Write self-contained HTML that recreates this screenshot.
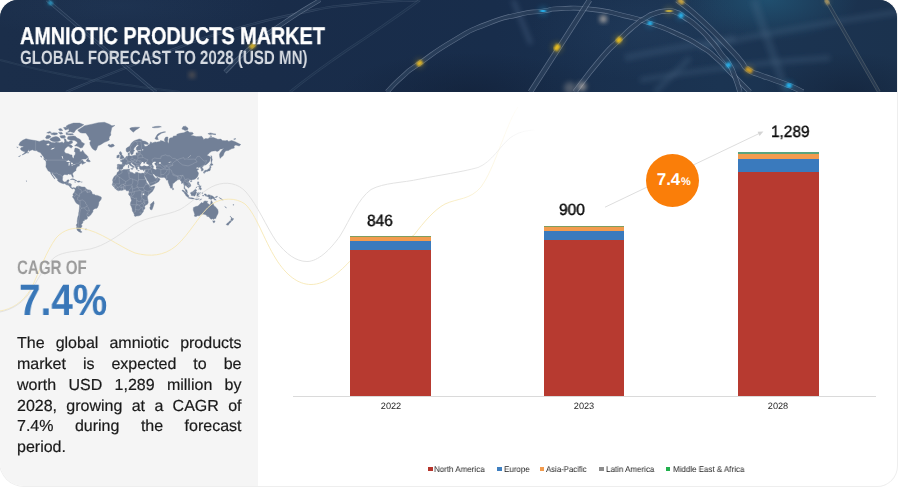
<!DOCTYPE html>
<html><head><meta charset="utf-8"><title>Amniotic Products Market</title>
<style>
html,body{margin:0;padding:0;background:#fff;}
body{width:900px;height:488px;overflow:hidden;position:relative;font-family:"Liberation Sans",sans-serif;}
#card *{text-rendering:geometricPrecision;}
.para,.lg,.yr,.val,.cagr,.pct,.t1,.t2{will-change:transform;}
#card{position:absolute;left:0;top:0;width:897px;height:486px;border-radius:18px 18px 20px 24px;overflow:hidden;background:#fff;box-shadow:0 0 0 1px #eeeeee;}
#hdr{position:absolute;left:0;top:0;width:898px;height:91.5px;background:#1b2f4b;overflow:hidden;}
#hdr svg{position:absolute;left:0;top:0;}
.t1{position:absolute;left:20px;top:22.5px;font-weight:bold;font-size:24.2px;line-height:28px;color:#fff;-webkit-text-stroke:0.35px #fff;white-space:nowrap;transform-origin:0 0;transform:scaleX(0.819);}
.t2{position:absolute;left:20px;top:48px;font-weight:bold;font-size:19.3px;line-height:22px;color:#d5dae1;white-space:nowrap;transform-origin:0 0;transform:scaleX(0.784);}
#panel{position:absolute;left:0;top:91.5px;width:258px;height:396px;background:#f5f5f5;}
#deco{position:absolute;left:0;top:0;}
.cagr{position:absolute;left:17.2px;top:257.4px;font-size:19.5px;line-height:22px;color:#9b9b9b;white-space:nowrap;transform-origin:0 0;transform:scaleX(0.776);font-weight:bold;}
.pct{position:absolute;left:18.5px;top:276.4px;font-size:44px;line-height:50px;font-weight:bold;color:#3977b8;white-space:nowrap;transform-origin:0 0;transform:scaleX(0.878);}
.para{position:absolute;left:17px;top:334.4px;width:224.5px;font-size:16px;line-height:20.85px;color:#1a1a1a;-webkit-text-stroke:0.2px #1a1a1a;}
.para div{text-align:justify;text-align-last:justify;white-space:nowrap;height:20.85px;}
.para div.last{text-align-last:left;}
.bar{position:absolute;}
.val{position:absolute;font-size:16.3px;line-height:18px;color:#0a0a0a;-webkit-text-stroke:0.38px #0a0a0a;white-space:nowrap;transform-origin:0 0;}
.yr{position:absolute;font-size:9.2px;line-height:10px;color:#262626;white-space:nowrap;width:40px;text-align:center;}
.lg{position:absolute;top:464px;font-size:8.4px;line-height:10px;color:#1c1c1c;white-space:nowrap;transform-origin:0 0;transform:scaleX(0.953);}
.sq{position:absolute;top:466.6px;width:4.4px;height:4.4px;}
#circ{position:absolute;left:646.4px;top:153.5px;width:53px;height:53px;border-radius:50%;background:#fa7e09;}
#circ span{position:absolute;color:#fff;font-weight:bold;white-space:nowrap;}
</style></head>
<body>
<div id="card">
<div id="hdr"><svg width="898" height="92" viewBox="0 0 898 92">
<defs>
<linearGradient id="hg" x1="0" y1="0" x2="1" y2="0">
<stop offset="0" stop-color="#1b2e4a"/><stop offset="0.3" stop-color="#192c49"/><stop offset="0.55" stop-color="#182d4b"/><stop offset="0.8" stop-color="#1b3452"/><stop offset="1" stop-color="#1b324e"/>
</linearGradient>
<radialGradient id="rg1" cx="0.5" cy="0.5" r="0.5"><stop offset="0" stop-color="#256a8c" stop-opacity="0.5"/><stop offset="1" stop-color="#256a8c" stop-opacity="0"/></radialGradient>
<radialGradient id="rg2" cx="0.5" cy="0.5" r="0.5"><stop offset="0" stop-color="#0f1b30" stop-opacity="0.45"/><stop offset="1" stop-color="#0f1b30" stop-opacity="0"/></radialGradient>
<radialGradient id="rg3" cx="0.5" cy="0.5" r="0.5"><stop offset="0" stop-color="#3a5d85" stop-opacity="0.35"/><stop offset="1" stop-color="#3a5d85" stop-opacity="0"/></radialGradient>
<filter id="b1" x="-50%" y="-50%" width="200%" height="200%"><feGaussianBlur stdDeviation="0.8"/></filter>
<filter id="b2" x="-50%" y="-50%" width="200%" height="200%"><feGaussianBlur stdDeviation="2.4"/></filter>
<filter id="b3" x="-20%" y="-20%" width="140%" height="140%"><feGaussianBlur stdDeviation="2.6"/></filter>
</defs>
<rect width="898" height="92" fill="url(#hg)"/>
<ellipse cx="768" cy="0" rx="90" ry="42" fill="url(#rg1)"/>
<ellipse cx="640" cy="30" rx="110" ry="50" fill="url(#rg3)" opacity="0.45"/>
<ellipse cx="120" cy="6" rx="160" ry="34" fill="url(#rg3)" opacity="0.35"/>
<ellipse cx="470" cy="92" rx="130" ry="40" fill="url(#rg2)"/>
<ellipse cx="850" cy="92" rx="90" ry="40" fill="url(#rg2)"/>
<g filter="url(#b3)" fill="none" stroke="#54708f" stroke-opacity="0.24">
<path d="M700 48 C760 34 830 22 898 12" stroke-width="6"/>
<path d="M754 0 C762 26 772 50 786 92" stroke-width="8"/>
<path d="M625 58 C660 50 700 44 735 38" stroke-width="7"/>
<path d="M640 80 C700 70 760 62 830 58" stroke-width="6"/>
<path d="M655 92 L690 58" stroke-width="6"/>
<path d="M513 0 L531 44" stroke-width="5" stroke="#6a86a6"/>
</g>
<path d="M66.0 92.0C84.0 84.7 82.0 85.0 120.0 70.0C158.0 55.0 145.0 59.7 180.0 47.0C215.0 34.3 185.0 43.3 225.0 32.0C265.0 20.7 255.0 22.3 300.0 13.0C345.0 3.7 320.0 8.3 360.0 4.0C400.0 -0.3 400.0 1.3 420.0 0.0" fill="none" stroke="#c6d3e6" stroke-opacity="0.16" stroke-width="2.4"/><path d="M66.0 92.0C84.0 84.7 82.0 85.0 120.0 70.0C158.0 55.0 145.0 59.7 180.0 47.0C215.0 34.3 185.0 43.3 225.0 32.0C265.0 20.7 255.0 22.3 300.0 13.0C345.0 3.7 320.0 8.3 360.0 4.0C400.0 -0.3 400.0 1.3 420.0 0.0" fill="none" stroke="#1a2f4c" stroke-opacity="0.78" stroke-width="1.1"/><path d="M47.0 0.0C58.0 9.3 56.3 8.0 80.0 28.0C103.7 48.0 92.7 38.7 118.0 60.0C143.3 81.3 143.3 81.3 156.0 92.0" fill="none" stroke="#c6d3e6" stroke-opacity="0.22" stroke-width="3.2"/><path d="M47.0 0.0C58.0 9.3 56.3 8.0 80.0 28.0C103.7 48.0 92.7 38.7 118.0 60.0C143.3 81.3 143.3 81.3 156.0 92.0" fill="none" stroke="#1a2f4c" stroke-opacity="0.78" stroke-width="1.9"/><path d="M0.0 60.0C20.0 64.7 20.0 66.0 60.0 74.0C100.0 82.0 80.0 78.0 120.0 84.0C160.0 90.0 160.0 89.3 180.0 92.0" fill="none" stroke="#c6d3e6" stroke-opacity="0.1" stroke-width="2.0"/><path d="M0.0 60.0C20.0 64.7 20.0 66.0 60.0 74.0C100.0 82.0 80.0 78.0 120.0 84.0C160.0 90.0 160.0 89.3 180.0 92.0" fill="none" stroke="#1a2f4c" stroke-opacity="0.78" stroke-width="0.7"/><path d="M290.0 92.0C303.3 82.0 300.0 83.3 330.0 62.0C360.0 40.7 350.0 48.7 380.0 28.0C410.0 7.3 406.7 9.3 420.0 0.0" fill="none" stroke="#c6d3e6" stroke-opacity="0.12" stroke-width="2.6"/><path d="M290.0 92.0C303.3 82.0 300.0 83.3 330.0 62.0C360.0 40.7 350.0 48.7 380.0 28.0C410.0 7.3 406.7 9.3 420.0 0.0" fill="none" stroke="#1a2f4c" stroke-opacity="0.78" stroke-width="1.3"/><path d="M225.0 72.0C234.2 63.3 232.5 62.7 252.5 46.0C272.5 29.3 262.5 37.3 285.0 22.0C307.5 6.7 308.3 7.3 320.0 0.0" fill="none" stroke="#c6d3e6" stroke-opacity="0.38" stroke-width="4.2"/><path d="M225.0 72.0C234.2 63.3 232.5 62.7 252.5 46.0C272.5 29.3 262.5 37.3 285.0 22.0C307.5 6.7 308.3 7.3 320.0 0.0" fill="none" stroke="#1a2f4c" stroke-opacity="0.78" stroke-width="2.9"/><path d="M677.0 0.0C684.7 6.2 683.4 3.6 700.0 18.7C716.6 33.8 713.4 31.5 726.7 45.3C740.0 59.1 732.9 51.9 740.0 60.0C747.1 68.1 741.3 64.5 748.0 69.5C754.7 74.5 751.7 71.7 760.0 75.0C768.3 78.3 763.3 76.0 773.0 79.5C782.7 83.0 779.0 81.3 789.0 85.5C799.0 89.7 798.3 89.8 803.0 92.0" fill="none" stroke="#c6d3e6" stroke-opacity="0.38" stroke-width="5.4"/><path d="M677.0 0.0C684.7 6.2 683.4 3.6 700.0 18.7C716.6 33.8 713.4 31.5 726.7 45.3C740.0 59.1 732.9 51.9 740.0 60.0C747.1 68.1 741.3 64.5 748.0 69.5C754.7 74.5 751.7 71.7 760.0 75.0C768.3 78.3 763.3 76.0 773.0 79.5C782.7 83.0 779.0 81.3 789.0 85.5C799.0 89.7 798.3 89.8 803.0 92.0" fill="none" stroke="#1a2f4c" stroke-opacity="0.78" stroke-width="4.1"/><path d="M387.0 92.0C392.0 87.0 391.1 86.6 402.0 77.0C412.9 67.4 402.1 75.6 419.6 63.3C437.1 51.0 432.3 53.0 454.4 40.0C476.5 27.0 464.9 32.7 486.0 24.3C507.1 15.9 498.8 19.2 517.8 14.8C536.8 10.4 528.6 13.1 543.0 11.0C557.4 8.9 544.4 9.1 561.0 8.6C577.6 8.1 571.7 7.1 592.8 9.5C613.9 11.9 605.4 11.2 624.4 15.8C643.4 20.4 632.3 17.2 649.8 23.2C667.3 29.2 660.3 26.2 677.0 33.8C693.7 41.4 687.0 37.9 700.0 46.0C713.0 54.1 706.0 49.3 716.0 58.0C726.0 66.7 721.3 63.3 730.0 72.0C738.7 80.7 735.3 77.3 742.0 84.0C748.7 90.7 747.3 89.3 750.0 92.0" fill="none" stroke="#c6d3e6" stroke-opacity="0.4" stroke-width="4.8"/><path d="M387.0 92.0C392.0 87.0 391.1 86.6 402.0 77.0C412.9 67.4 402.1 75.6 419.6 63.3C437.1 51.0 432.3 53.0 454.4 40.0C476.5 27.0 464.9 32.7 486.0 24.3C507.1 15.9 498.8 19.2 517.8 14.8C536.8 10.4 528.6 13.1 543.0 11.0C557.4 8.9 544.4 9.1 561.0 8.6C577.6 8.1 571.7 7.1 592.8 9.5C613.9 11.9 605.4 11.2 624.4 15.8C643.4 20.4 632.3 17.2 649.8 23.2C667.3 29.2 660.3 26.2 677.0 33.8C693.7 41.4 687.0 37.9 700.0 46.0C713.0 54.1 706.0 49.3 716.0 58.0C726.0 66.7 721.3 63.3 730.0 72.0C738.7 80.7 735.3 77.3 742.0 84.0C748.7 90.7 747.3 89.3 750.0 92.0" fill="none" stroke="#1a2f4c" stroke-opacity="0.78" stroke-width="3.5"/><path d="M574.8 92.0C582.9 81.7 584.3 78.3 599.0 61.0C613.7 43.7 607.0 51.9 619.0 40.0C631.0 28.1 626.3 32.5 635.0 25.3C643.7 18.1 638.3 22.3 645.0 18.3C651.7 14.3 647.8 15.8 655.0 13.4C662.2 11.0 659.7 11.4 666.7 11.0C673.7 10.6 670.2 10.3 676.0 12.3C681.8 14.3 676.7 12.0 684.0 17.0C691.3 22.0 688.7 19.1 698.0 27.4C707.3 35.7 704.0 32.8 712.0 42.0C720.0 51.2 716.3 47.7 722.0 55.0C727.7 62.3 724.7 56.7 729.0 64.0C733.3 71.3 731.3 67.7 735.0 77.0C738.7 86.3 738.3 87.0 740.0 92.0" fill="none" stroke="#c6d3e6" stroke-opacity="0.4" stroke-width="5.2"/><path d="M574.8 92.0C582.9 81.7 584.3 78.3 599.0 61.0C613.7 43.7 607.0 51.9 619.0 40.0C631.0 28.1 626.3 32.5 635.0 25.3C643.7 18.1 638.3 22.3 645.0 18.3C651.7 14.3 647.8 15.8 655.0 13.4C662.2 11.0 659.7 11.4 666.7 11.0C673.7 10.6 670.2 10.3 676.0 12.3C681.8 14.3 676.7 12.0 684.0 17.0C691.3 22.0 688.7 19.1 698.0 27.4C707.3 35.7 704.0 32.8 712.0 42.0C720.0 51.2 716.3 47.7 722.0 55.0C727.7 62.3 724.7 56.7 729.0 64.0C733.3 71.3 731.3 67.7 735.0 77.0C738.7 86.3 738.3 87.0 740.0 92.0" fill="none" stroke="#1a2f4c" stroke-opacity="0.78" stroke-width="3.9"/><path d="M530.4 92.0L589.6 0.0" fill="none" stroke="#c6d3e6" stroke-opacity="0.4" stroke-width="5.4"/><path d="M530.4 92.0L589.6 0.0" fill="none" stroke="#1a2f4c" stroke-opacity="0.78" stroke-width="4.1"/><path d="M826.0 0.0L879.0 92.0" fill="none" stroke="#c9c4b0" stroke-opacity="0.28" stroke-width="3.6"/><path d="M826.0 0.0L879.0 92.0" fill="none" stroke="#1a2f4c" stroke-opacity="0.7" stroke-width="2.3"/><circle cx="543" cy="11" r="5.3" fill="#27b9f5" opacity="0.19" filter="url(#b2)"/><line x1="540.5" y1="11.3" x2="545.5" y2="10.7" stroke="#27b9f5" stroke-width="4.4" opacity="0.95" filter="url(#b1)"/><circle cx="557" cy="47.5" r="6.0" fill="#f0c21e" opacity="0.19" filter="url(#b2)"/><line x1="555.2" y1="50.2" x2="558.8" y2="44.8" stroke="#f0c21e" stroke-width="5" opacity="0.95" filter="url(#b1)"/><circle cx="619" cy="40" r="5.8" fill="#f0c21e" opacity="0.19" filter="url(#b2)"/><line x1="617.1" y1="42.3" x2="620.9" y2="37.7" stroke="#f0c21e" stroke-width="4.8" opacity="0.95" filter="url(#b1)"/><circle cx="419.6" cy="63.3" r="5.3" fill="#eebf25" opacity="0.19" filter="url(#b2)"/><line x1="417.2" y1="65.1" x2="422.0" y2="61.5" stroke="#eebf25" stroke-width="4.4" opacity="0.95" filter="url(#b1)"/><circle cx="650" cy="23.4" r="5.0" fill="#27b9f5" opacity="0.19" filter="url(#b2)"/><line x1="647.9" y1="22.6" x2="652.1" y2="24.2" stroke="#27b9f5" stroke-width="4.2" opacity="0.95" filter="url(#b1)"/><circle cx="669" cy="11" r="5.3" fill="#e8c63a" opacity="0.16" filter="url(#b2)"/><line x1="666.0" y1="11.4" x2="672.0" y2="10.6" stroke="#e8c63a" stroke-width="4.4" opacity="0.8" filter="url(#b1)"/><circle cx="681" cy="15.5" r="5.3" fill="#27b9f5" opacity="0.19" filter="url(#b2)"/><line x1="679.3" y1="14.0" x2="682.7" y2="17.0" stroke="#27b9f5" stroke-width="4.4" opacity="0.95" filter="url(#b1)"/><circle cx="681" cy="1.5" r="5.3" fill="#e9b83a" opacity="0.16" filter="url(#b2)"/><line x1="678.5" y1="-0.2" x2="683.5" y2="3.2" stroke="#e9b83a" stroke-width="4.4" opacity="0.8" filter="url(#b1)"/><circle cx="728.5" cy="65" r="5.3" fill="#27b9f5" opacity="0.19" filter="url(#b2)"/><line x1="727.2" y1="63.2" x2="729.8" y2="66.8" stroke="#27b9f5" stroke-width="4.4" opacity="0.95" filter="url(#b1)"/><circle cx="749" cy="70" r="5.5" fill="#e2a922" opacity="0.17" filter="url(#b2)"/><line x1="745.9" y1="68.4" x2="752.1" y2="71.6" stroke="#e2a922" stroke-width="4.6" opacity="0.85" filter="url(#b1)"/><circle cx="789" cy="85.5" r="5.5" fill="#27b9f5" opacity="0.19" filter="url(#b2)"/><line x1="786.7" y1="84.4" x2="791.3" y2="86.6" stroke="#27b9f5" stroke-width="4.6" opacity="0.95" filter="url(#b1)"/><circle cx="252.5" cy="46" r="4.8" fill="#e9bf22" opacity="0.18" filter="url(#b2)"/><line x1="250.2" y1="47.9" x2="254.8" y2="44.1" stroke="#e9bf22" stroke-width="4" opacity="0.9" filter="url(#b1)"/><circle cx="50.5" cy="3" r="4.1" fill="#2aa9d8" opacity="0.16" filter="url(#b2)"/><line x1="48.8" y1="1.6" x2="52.2" y2="4.4" stroke="#2aa9d8" stroke-width="3.4" opacity="0.8" filter="url(#b1)"/><circle cx="827" cy="1.5" r="3.8" fill="#e6c066" opacity="0.14" filter="url(#b2)"/><line x1="825.5" y1="-1.1" x2="828.5" y2="4.1" stroke="#e6c066" stroke-width="3.2" opacity="0.7" filter="url(#b1)"/><circle cx="603.3" cy="19" r="3.2" fill="#f6e3cf" opacity="0.8" filter="url(#b2)"/><circle cx="582" cy="86.5" r="4.2" fill="#f6e3cf" opacity="0.55" filter="url(#b2)"/><circle cx="192" cy="75" r="3" fill="#e8b070" opacity="0.35" filter="url(#b2)"/><circle cx="570" cy="88" r="6" fill="#f6e3cf" opacity="0.25" filter="url(#b2)"/></svg>
<div class="t1">AMNIOTIC PRODUCTS MARKET</div>
<div class="t2">GLOBAL FORECAST TO 2028 (USD MN)</div>
</div>
<div id="panel"></div>
<svg id="map" width="260" height="250" viewBox="0 0 260 250" style="position:absolute;left:0;top:0"><path fill="#728097" stroke="#728097" stroke-width="0.4" stroke-linejoin="round" d="M18.8 145.1L20.1 142.2L22.6 140.3L26.0 138.8L30.0 139.7L35.6 140.6L39.3 141.4L43.6 140.0L45.5 140.8L48.6 140.8L51.7 142.5L54.8 142.7L56.0 141.9L59.8 142.7L62.2 141.9L63.5 143.2L64.7 141.4L64.1 138.6L65.7 139.1L66.6 141.4L68.4 141.9L70.3 140.8L72.2 140.8L72.5 143.0L69.7 144.3L69.1 146.1L67.2 146.8L65.3 148.6L64.4 150.5L64.4 151.7L65.7 153.3L68.4 153.7L70.3 154.8L72.0 155.0L72.2 156.8L73.1 158.2L74.0 158.0L74.0 155.9L75.3 154.2L75.4 152.4L74.3 151.4L75.0 148.1L77.1 148.3L79.6 149.6L79.9 151.4L81.2 152.1L82.7 150.2L83.3 151.4L84.9 153.7L87.0 155.5L88.3 157.2L86.7 158.2L85.8 159.1L82.7 159.1L81.5 159.8L79.3 161.7L80.8 160.5L82.7 159.9L83.0 161.3L84.9 162.5L85.8 162.5L83.9 163.6L82.1 164.4L82.1 163.3L81.5 163.3L79.6 164.3L79.2 165.6L79.6 165.8L78.4 166.2L77.1 166.7L76.8 167.6L76.2 168.5L75.9 169.2L76.1 170.5L75.3 171.0L74.0 171.9L72.8 173.1L72.6 174.2L73.2 175.9L73.3 177.2L72.8 177.5L72.2 176.6L71.7 175.5L71.5 174.7L70.7 174.2L70.0 174.4L68.8 174.0L67.5 174.0L67.7 174.9L66.6 174.7L64.7 174.4L63.2 175.3L62.7 176.2L62.7 177.6L62.4 179.2L62.7 180.5L63.5 181.5L64.4 182.0L66.0 181.8L66.8 181.2L67.0 180.2L68.4 179.8L69.2 180.0L68.7 181.2L68.3 182.5L68.0 183.5L69.7 183.5L71.4 184.1L71.2 185.7L71.1 186.7L71.8 187.7L72.8 188.1L73.7 187.6L75.0 188.1L74.7 189.1L73.7 188.1L73.1 189.0L72.3 188.8L71.5 188.4L70.3 187.4L69.8 186.7L68.8 185.4L67.5 185.1L66.3 184.7L64.7 183.5L63.5 183.7L61.9 183.3L60.1 182.5L58.5 181.6L57.5 180.5L57.7 179.6L57.0 178.6L55.7 177.4L55.1 176.4L54.2 175.5L53.2 174.5L52.8 173.3L51.8 173.0L51.9 174.2L52.9 175.5L53.9 176.9L54.5 178.0L55.1 178.8L54.7 178.9L53.6 177.7L53.4 176.8L52.2 176.0L52.0 175.2L51.2 174.2L50.6 172.9L50.3 172.3L49.5 171.4L48.3 171.0L47.4 169.6L47.0 168.7L46.2 167.4L45.9 166.8L46.1 164.8L46.1 162.3L45.7 160.6L47.0 161.3L46.9 160.1L45.8 159.3L44.3 158.4L43.6 156.8L42.4 155.5L41.5 154.2L40.2 152.4L38.4 151.9L36.5 150.7L34.0 150.5L32.5 149.8L30.9 150.3L29.1 151.3L29.1 149.6L27.8 151.0L27.2 152.5L25.3 153.6L23.5 154.5L21.9 155.0L22.9 154.2L24.7 152.8L25.3 151.7L23.8 151.6L22.6 151.0L21.0 150.0L20.4 148.6L21.3 147.4L23.2 147.0L23.2 146.1L21.0 146.1L19.8 145.6ZM75.0 188.1L75.4 188.6L76.2 187.0L76.6 186.6L77.7 186.3L78.7 185.8L78.5 186.7L79.6 186.3L79.9 185.9L80.7 186.8L82.1 186.9L83.3 187.0L84.6 186.9L85.2 187.6L85.8 188.2L86.7 189.2L87.7 189.8L88.9 189.9L90.1 190.1L91.1 190.9L92.0 192.5L92.0 193.6L92.9 194.2L94.5 194.4L95.5 195.3L97.3 195.4L98.8 195.9L100.1 196.6L101.2 197.1L101.4 198.3L101.0 199.6L99.9 200.9L98.9 202.1L98.8 203.7L98.4 205.4L97.7 207.0L97.0 208.2L95.4 208.4L94.2 209.0L92.9 210.2L92.9 211.7L92.0 213.0L90.8 214.8L89.8 215.8L88.9 216.5L87.7 216.2L86.8 215.8L87.5 217.2L87.2 218.9L85.8 219.4L84.4 219.4L84.4 220.7L82.7 220.9L83.1 222.0L82.5 223.2L81.2 224.7L82.2 225.9L81.2 227.5L80.2 228.8L80.6 229.9L80.5 230.9L82.1 232.0L80.8 232.6L79.0 231.7L77.4 230.4L76.5 228.3L76.8 226.3L76.2 225.1L77.4 223.2L77.2 221.3L77.4 219.8L77.6 218.0L78.0 216.5L78.6 215.1L78.7 213.0L79.1 211.0L79.4 208.6L79.5 206.3L79.4 205.2L78.7 204.6L77.1 203.7L75.8 202.5L75.1 201.2L74.3 199.6L73.5 198.0L72.7 197.4L72.6 196.4L73.4 195.7L72.8 195.0L73.3 193.6L74.0 192.7L74.3 192.0L75.1 191.1L75.0 189.5L74.7 189.1ZM119.3 170.1L121.8 170.5L123.6 169.6L126.1 169.4L129.1 169.0L129.8 169.2L129.3 170.3L129.7 171.4L130.1 171.9L132.3 172.5L134.2 173.7L135.4 173.5L135.5 172.4L137.3 172.3L138.5 173.0L141.0 173.5L142.2 173.1L143.0 173.3L143.2 174.2L144.0 175.5L145.1 178.2L146.1 180.2L146.3 181.6L147.4 183.5L148.6 184.4L149.8 185.7L149.8 186.3L150.9 187.0L152.8 186.5L154.7 186.1L154.5 187.6L153.4 189.8L152.4 191.4L150.9 192.7L149.3 194.2L148.1 195.3L147.4 196.7L147.5 198.3L148.0 200.2L148.2 202.8L147.2 204.4L145.8 205.0L144.6 206.3L145.0 208.6L143.5 210.0L143.3 211.7L142.2 213.0L140.7 215.0L138.9 215.8L136.6 216.0L135.4 216.4L134.4 216.0L134.3 214.4L133.5 212.7L132.4 211.0L132.0 208.3L131.2 206.3L130.3 204.7L130.6 202.5L131.5 200.5L131.1 199.0L130.6 197.4L130.3 196.4L128.9 194.9L128.5 194.0L128.9 193.0L129.1 191.6L128.5 190.8L127.3 190.8L126.4 190.8L125.8 189.6L124.2 189.6L122.4 190.3L121.1 190.5L120.2 190.3L118.3 190.8L117.1 190.1L115.9 189.3L114.8 188.2L114.6 187.4L113.7 186.7L112.6 185.7L112.2 184.3L112.8 183.1L112.9 181.5L112.5 180.2L113.1 178.6L114.0 176.9L114.9 175.7L116.2 175.0L116.9 174.2L117.0 173.1L117.7 171.9L118.8 171.2ZM117.4 169.2L117.1 168.0L117.5 166.3L117.2 164.8L118.0 164.3L120.5 164.5L121.9 164.5L122.3 163.3L122.3 162.5L121.6 161.7L120.1 160.9L121.1 160.2L122.1 160.3L121.9 159.5L123.1 159.7L124.0 158.6L125.2 158.1L125.8 157.2L126.1 156.5L127.3 156.3L128.4 156.1L128.1 154.6L128.1 153.3L129.5 152.6L129.5 154.2L129.2 155.0L129.8 155.9L131.7 155.9L134.5 155.3L135.4 155.6L136.0 154.6L136.0 153.3L136.9 152.6L138.1 153.1L138.1 152.1L137.6 151.3L139.1 151.0L140.4 150.9L141.6 150.5L140.4 150.0L138.5 150.3L137.1 150.5L136.2 149.6L136.3 147.6L138.2 145.8L138.7 145.1L136.8 144.8L136.1 146.1L134.5 147.6L133.7 149.1L133.8 150.0L134.7 150.7L133.5 151.7L133.2 153.3L132.9 154.0L131.9 154.6L131.1 154.7L130.9 154.0L130.3 152.7L129.8 151.4L129.5 151.0L128.9 151.6L128.0 152.3L126.7 151.9L126.1 150.5L126.1 148.6L127.3 147.6L129.2 146.6L130.4 145.1L131.1 143.5L132.3 142.2L133.8 141.1L135.4 140.3L137.3 139.7L139.1 139.0L141.0 139.4L142.2 139.9L141.6 140.6L143.5 140.9L145.3 141.3L147.8 142.7L148.4 143.9L147.8 144.4L145.9 144.3L143.8 143.9L144.1 145.1L144.7 146.3L146.2 146.6L146.6 145.9L147.8 146.0L148.1 144.9L149.7 144.3L150.3 142.7L150.3 141.9L151.8 142.4L151.8 143.5L152.8 142.8L155.2 141.9L156.5 142.2L158.3 141.8L160.2 141.6L160.5 140.5L162.7 141.1L164.5 141.7L165.5 142.3L164.5 140.6L164.5 139.1L165.8 137.0L167.9 137.0L167.9 139.4L167.6 141.9L168.6 143.5L168.9 141.9L169.2 139.1L170.1 138.0L171.4 137.7L172.9 137.6L173.2 136.2L176.6 135.7L176.9 134.3L180.0 133.3L183.8 132.7L187.5 130.8L189.3 132.2L192.4 132.4L193.4 133.7L190.6 135.6L193.1 135.8L196.2 136.6L199.3 136.4L201.7 136.3L203.0 138.0L203.6 139.4L205.5 138.6L207.9 138.7L209.8 137.4L213.5 137.6L216.0 138.6L217.9 139.3L221.0 139.1L222.2 140.6L225.3 140.8L227.2 140.3L228.7 141.4L231.5 140.5L234.6 141.4L237.7 143.0L240.8 144.6L239.2 145.9L235.8 145.1L234.0 145.9L234.3 148.1L231.5 148.8L229.6 149.8L228.4 150.5L225.9 150.7L224.4 152.4L223.8 153.9L223.4 155.2L222.2 156.6L221.3 156.9L220.2 158.4L219.7 156.8L219.5 154.2L220.3 152.6L222.2 150.0L224.1 148.1L222.2 148.9L220.3 149.1L218.8 150.8L217.2 151.4L215.4 150.8L211.7 151.2L209.8 152.6L208.2 154.2L206.8 155.3L208.6 155.9L209.8 156.6L210.7 157.4L210.1 159.3L209.8 160.9L208.6 162.5L207.0 164.0L205.5 165.0L204.2 165.2L203.4 165.9L202.4 167.0L202.1 167.6L203.2 168.9L203.3 170.3L202.4 170.8L201.4 171.1L201.4 169.6L201.1 168.7L200.5 168.2L200.5 167.3L199.3 167.3L198.3 167.9L198.3 166.7L196.8 167.6L196.0 167.9L196.5 168.7L197.7 168.7L198.9 169.1L197.6 170.0L197.0 170.7L197.7 171.7L198.5 173.1L198.3 174.5L198.0 175.5L197.1 177.2L196.2 178.0L195.2 178.9L193.8 179.4L192.4 179.8L191.4 180.1L191.2 180.7L190.9 179.9L190.0 179.8L189.2 180.5L188.6 181.5L189.0 182.5L190.1 183.5L190.8 185.1L190.7 186.2L189.5 187.0L189.0 187.6L188.1 188.1L188.1 187.3L187.2 186.9L186.6 186.0L185.6 185.4L185.0 185.2L184.7 186.7L184.6 187.7L185.3 189.1L185.9 189.3L186.9 190.1L187.2 191.1L187.2 192.0L187.6 192.7L187.1 192.7L185.8 191.8L185.2 190.5L185.1 189.5L184.4 188.8L183.9 188.4L184.1 187.0L184.2 185.8L183.8 184.7L183.5 183.3L182.8 182.9L182.1 183.6L181.5 183.5L181.5 181.8L180.8 180.9L180.0 179.9L179.5 179.2L178.8 179.6L177.9 179.8L176.9 180.0L176.6 180.9L175.7 181.3L174.5 182.5L173.5 183.3L172.7 183.8L172.7 185.3L172.5 186.3L172.5 187.1L172.0 187.7L171.5 188.1L171.1 188.5L170.4 187.7L170.0 186.3L169.4 185.4L169.0 184.1L168.4 182.8L168.1 181.5L168.1 180.2L167.6 180.1L166.9 180.3L165.8 179.4L166.6 178.9L165.3 178.4L164.7 177.7L164.2 177.3L162.7 177.4L161.1 177.5L159.6 177.3L158.5 177.0L158.0 176.2L156.8 176.5L155.6 175.9L154.6 175.0L154.0 174.0L153.2 174.0L152.8 174.5L153.1 175.3L154.0 176.4L154.3 177.4L154.9 176.9L154.9 177.9L156.2 178.2L157.4 177.2L157.9 176.7L158.0 177.9L159.4 178.5L160.1 179.3L159.3 180.6L158.8 181.5L157.7 182.2L156.5 182.9L155.4 183.5L153.4 184.6L150.9 185.5L150.0 185.6L149.4 184.2L149.0 182.9L148.0 181.2L146.9 179.9L146.2 178.2L145.3 176.9L144.6 175.5L144.7 174.5L144.3 175.7L143.5 174.7L143.2 174.2L143.0 173.3L144.2 173.3L144.7 172.1L145.3 170.7L145.3 169.5L144.1 169.7L143.2 169.9L142.0 169.5L141.2 169.7L140.1 169.2L139.4 168.2L139.6 167.4L139.2 167.0L139.1 166.5L137.9 166.5L137.8 167.0L137.1 166.8L137.3 167.8L137.9 168.5L137.3 168.9L137.3 169.6L136.5 169.4L136.1 168.4L135.4 167.3L135.0 166.3L134.9 165.6L133.5 164.6L132.4 163.8L132.0 163.1L131.5 162.8L130.7 163.0L130.7 163.9L131.4 164.4L131.8 165.3L132.9 165.6L134.5 166.9L134.3 167.2L133.5 166.7L133.3 167.3L133.6 167.8L132.9 168.6L132.7 168.4L132.9 167.4L132.6 167.0L131.9 166.5L130.6 165.8L129.5 164.9L129.2 164.0L128.5 163.7L127.7 164.2L126.7 164.7L125.8 164.5L125.0 164.6L125.0 165.6L124.2 166.1L123.3 166.7L122.8 167.5L123.1 167.9L122.6 168.7L121.8 169.4L120.2 169.5L119.6 170.0L119.0 169.4L118.3 169.1ZM77.7 130.2L80.8 128.3L84.6 125.7L92.0 124.2L98.2 122.7L104.4 122.3L109.4 124.2L111.8 125.7L114.9 125.4L111.8 127.6L111.2 130.4L110.6 133.1L110.9 135.0L109.4 136.8L109.0 138.6L109.4 139.9L107.5 141.1L104.4 142.3L102.5 143.5L100.1 144.9L98.2 145.6L97.3 147.6L96.3 150.0L95.4 150.6L93.9 149.8L92.3 148.6L91.1 146.6L90.1 144.6L89.8 142.5L91.1 140.8L89.2 139.7L88.9 137.4L87.3 135.0L85.8 133.1L82.1 133.1L79.9 132.4L79.0 131.4ZM107.9 145.1L109.0 144.2L110.3 144.9L111.8 144.3L113.1 144.1L113.9 145.1L114.5 145.8L113.4 146.4L111.5 147.2L110.3 147.0L109.0 146.7L109.4 145.9L108.1 145.7ZM119.6 159.2L120.8 159.0L122.1 158.7L123.8 158.3L124.1 157.0L123.1 156.6L122.9 155.7L122.1 154.9L121.6 154.2L121.8 152.8L120.8 152.6L121.0 151.8L119.9 151.8L119.4 152.8L119.5 154.0L120.0 154.6L120.0 155.2L121.0 155.2L121.1 156.3L120.3 156.5L120.2 157.0L120.5 157.4L119.8 157.8L121.0 158.1L120.4 158.4ZM119.3 157.4L119.2 156.4L119.5 155.5L119.0 154.9L117.9 154.9L117.7 155.6L116.8 155.7L116.9 156.5L117.2 157.1L116.6 157.7L117.1 158.0L118.0 157.8ZM129.8 128.3L131.7 127.6L135.4 127.2L139.7 127.3L137.9 128.8L136.0 129.7L134.5 131.2L133.2 132.2L132.0 131.1L130.4 129.7ZM154.9 138.6L156.2 139.5L158.3 139.6L157.7 138.0L157.4 136.4L159.0 135.0L161.4 133.3L163.9 132.4L165.7 131.9L163.9 131.8L160.2 132.8L157.7 134.1L156.5 135.8L155.6 137.4ZM181.9 129.0L183.1 126.5L185.6 126.2L188.1 128.3L187.5 130.0L185.0 130.4L183.4 129.5ZM207.9 133.7L210.4 132.9L213.5 133.7L216.0 134.1L215.4 134.7L212.3 134.3L209.8 134.6ZM209.8 136.2L212.0 136.4L211.0 135.7ZM233.7 139.1L235.5 138.6L235.8 139.1L234.0 139.4ZM152.1 127.3L155.2 126.5L159.0 126.2L161.4 126.8L158.3 127.6L154.0 127.8ZM211.0 155.6L211.7 156.3L211.8 158.0L212.3 159.8L211.7 161.7L212.0 162.3L211.0 162.5L211.0 160.9L211.0 159.3L210.9 157.6ZM209.8 165.9L210.4 165.2L211.7 165.6L213.2 164.6L212.5 164.0L211.0 162.9L210.9 164.0L210.0 164.8ZM210.6 166.1L211.0 167.4L210.4 168.5L210.3 170.0L209.8 170.7L208.9 170.9L207.9 170.9L207.1 171.7L206.7 171.0L204.8 171.4L204.2 171.4L204.2 171.0L205.5 170.3L207.0 170.2L207.8 169.4L208.1 168.9L208.9 169.0L209.8 167.4L209.8 166.5ZM204.2 171.5L204.7 171.9L204.5 173.1L204.0 173.5L203.7 172.8L203.4 172.1ZM205.2 171.5L206.3 171.2L206.4 171.5L205.5 172.2L205.0 171.9ZM198.3 177.4L198.5 177.9L198.0 179.6L197.5 179.0L197.6 178.2ZM190.4 181.3L191.5 180.9L191.8 181.2L191.2 182.0L190.5 181.8ZM197.7 181.8L198.8 181.9L198.8 183.1L198.3 184.1L198.9 184.7L199.9 185.1L199.9 185.6L198.9 185.1L198.0 184.9L197.6 184.3L197.4 183.3ZM198.6 189.2L199.6 188.2L200.8 187.5L201.4 188.6L201.2 189.6L200.7 189.8L199.9 189.5L199.3 188.9ZM198.6 186.2L199.3 186.3L200.0 186.5L200.8 185.7L200.9 187.0L200.2 187.3L199.4 187.7L198.9 187.3L198.6 187.0ZM195.7 188.2L197.1 187.0L197.2 186.5L196.5 187.3ZM190.6 192.7L191.0 192.3L192.0 192.0L193.1 191.4L194.0 190.6L194.9 189.5L195.5 189.2L196.0 189.7L196.8 190.3L196.2 190.9L196.0 191.7L196.7 193.0L196.0 193.3L195.8 194.2L195.2 195.2L194.9 196.1L194.0 196.1L193.1 195.6L192.3 195.7L191.3 195.5L191.2 194.4L190.6 193.6ZM182.1 190.1L183.4 190.3L184.1 191.1L185.2 192.0L185.9 192.3L186.9 193.3L187.4 193.9L187.8 194.7L188.7 195.5L188.7 197.2L187.9 197.2L186.9 196.6L185.9 195.5L185.2 194.2L184.4 193.3L184.1 192.3L183.1 191.7L182.2 190.8ZM188.2 197.9L189.0 197.4L190.3 197.7L191.5 197.8L191.8 197.7L192.9 198.0L194.0 198.5L193.9 199.0L192.4 198.9L191.2 198.7L190.0 198.5L189.0 198.3ZM194.3 198.8L195.5 198.8L196.8 198.9L198.0 198.9L199.3 198.8L199.1 199.1L198.0 199.3L196.8 199.7L195.5 199.3L194.4 199.1ZM199.6 200.1L200.5 199.3L201.7 198.9L201.4 199.3L200.2 200.0ZM197.3 193.1L198.0 192.8L199.6 193.0L200.6 192.6L200.2 193.3L198.6 193.3L197.7 193.3L197.5 194.1L198.3 194.2L199.4 194.0L198.8 194.7L198.3 194.9L198.8 195.7L199.3 196.4L198.9 197.0L198.3 196.6L198.0 195.5L197.7 195.5L197.6 197.1L197.1 197.1L197.1 195.8L196.7 195.3L197.1 194.1ZM202.1 192.5L202.4 192.3L202.8 193.0L202.4 194.1L202.2 193.3ZM202.4 195.5L203.9 195.5L204.1 195.9L202.5 195.8ZM204.2 194.1L205.2 193.9L206.1 194.1L206.4 195.2L207.0 195.7L207.9 194.9L208.9 194.7L210.4 195.2L211.7 195.7L212.6 196.1L213.4 196.7L214.4 197.4L214.6 198.0L214.0 198.1L215.1 199.1L216.3 200.1L215.4 200.1L214.1 199.6L213.2 198.6L212.3 198.4L211.7 199.3L210.4 199.3L209.5 198.7L208.6 198.8L209.1 198.0L208.6 197.1L207.3 196.5L206.1 196.1L205.3 196.1L205.2 195.4L206.0 195.0L204.8 194.9L204.2 194.4ZM215.1 197.1L216.0 196.8L216.9 196.2L217.4 196.3L217.2 197.1L216.3 197.5L215.4 197.5ZM219.1 197.4L220.3 198.2L222.2 199.3L223.1 200.1L221.9 199.6L220.0 198.4ZM224.7 206.5L225.9 207.3L226.5 207.8L225.6 207.5ZM232.9 204.7L233.7 204.6L233.7 205.1L233.0 205.2ZM193.4 207.6L193.8 207.5L195.2 206.7L196.8 206.3L198.3 206.0L198.8 205.0L199.6 204.6L200.5 203.4L201.4 202.5L202.4 203.0L203.3 203.0L203.6 201.8L204.2 201.3L205.2 200.9L206.7 201.2L207.8 201.3L207.3 202.1L207.0 203.1L208.2 203.7L209.5 204.7L210.3 204.7L210.7 203.4L210.9 201.8L211.3 200.4L212.0 201.5L212.2 202.6L213.1 203.1L213.5 204.7L214.1 205.9L215.4 206.7L216.4 208.0L217.6 209.3L218.0 210.6L218.2 212.0L217.9 213.7L217.2 215.1L216.6 216.2L216.0 217.6L215.9 218.3L214.4 218.7L213.7 219.4L212.7 218.8L211.7 219.3L210.4 218.8L209.6 217.6L208.7 216.9L208.6 215.8L208.2 216.7L207.6 216.5L208.4 215.1L207.3 216.2L207.0 216.4L206.4 215.1L204.8 214.4L203.0 214.1L201.1 214.6L199.9 215.1L199.6 215.7L197.4 215.7L196.2 216.5L194.9 216.4L194.3 216.0L194.7 214.4L194.3 213.0L193.7 211.3L193.2 210.0L193.4 209.0ZM212.7 220.7L213.8 221.0L214.9 220.8L214.9 221.8L214.4 222.6L213.5 222.8L213.1 222.0ZM230.1 216.1L231.1 216.9L231.8 217.7L232.3 218.5L233.5 218.5L233.3 219.6L232.7 219.8L232.2 220.9L231.5 221.3L231.4 220.3L230.8 219.6L231.3 218.7L231.3 217.8L230.3 216.5ZM230.1 220.6L231.0 221.1L230.8 222.0L230.1 222.9L229.2 223.4L228.8 224.6L228.1 225.2L226.8 224.9L226.2 224.5L227.2 223.3L228.4 222.4L229.3 221.5ZM153.6 201.2L154.2 203.3L153.8 204.4L153.3 206.3L152.6 208.3L152.1 209.6L151.0 210.0L150.1 209.0L149.8 207.6L150.5 206.3L150.3 204.7L150.9 203.7L152.1 203.1L152.8 202.1ZM172.6 187.4L173.3 188.2L173.7 189.2L173.2 189.8L172.6 189.8L172.5 188.9ZM70.3 179.6L71.5 178.9L73.1 178.8L75.0 179.8L76.2 180.4L77.0 180.7L75.0 180.9L75.1 180.5L74.3 179.9L72.5 179.4L70.9 179.6ZM76.9 181.9L77.7 180.9L78.5 181.0L79.6 181.1L80.6 181.8L79.3 182.0L78.5 182.3L78.0 182.0ZM74.5 181.9L75.7 182.2L75.0 182.3ZM81.3 181.9L82.3 182.0L81.8 182.2ZM73.4 135.9L75.3 136.2L77.1 138.0L79.6 139.1L80.8 140.3L81.5 141.9L84.6 143.8L83.6 145.6L82.4 147.6L80.5 147.9L79.0 147.1L76.8 146.1L74.6 145.9L75.9 144.6L77.7 143.0L76.5 141.4L74.3 140.3L72.2 140.3L69.7 139.9L67.5 139.1L67.8 136.8L70.3 136.2ZM50.5 138.6L52.9 137.2L56.0 136.6L57.9 137.0L59.8 138.6L60.4 140.6L57.9 141.5L54.8 141.7L52.3 141.2L50.8 140.5L49.8 139.4ZM45.5 138.0L46.7 135.6L49.2 135.2L51.1 136.8L48.9 138.6L46.7 138.8ZM67.2 132.4L70.3 131.8L74.0 132.7L75.9 129.7L79.6 127.6L83.9 124.7L79.6 123.1L73.4 123.1L68.4 124.7L66.0 126.2L68.4 128.3L69.1 130.4ZM66.0 132.4L68.4 133.7L72.8 133.7L73.4 134.7L70.3 135.0L66.3 134.6ZM50.5 133.7L53.6 132.7L57.3 133.1L57.3 134.3L54.8 135.0L51.7 134.6ZM58.5 132.4L61.6 132.2L62.9 133.7L60.4 134.3ZM59.8 135.9L62.2 135.6L64.7 135.6L65.7 137.2L63.5 138.2L61.0 138.0ZM63.5 127.6L67.2 126.9L68.4 129.0L65.3 130.0ZM58.5 129.0L61.0 128.6L62.9 130.4L59.8 130.8ZM46.7 132.8L49.8 131.4L51.4 132.4L48.6 133.3ZM69.1 145.1L70.9 144.8L72.8 146.6L71.2 148.1L69.4 147.1ZM86.2 161.1L87.3 158.9L88.6 158.0L88.3 159.3L89.8 160.5L90.3 161.5L89.5 161.8L88.3 161.7ZM43.5 158.7L45.3 159.3L46.4 160.5L45.5 160.4L44.0 159.4ZM40.5 155.9L41.3 155.9L41.7 157.2L41.2 157.2ZM27.2 152.8L28.5 152.4L28.5 153.1ZM18.5 156.5L19.8 155.9L20.7 155.6L19.5 156.5ZM16.7 147.1L18.2 147.3L17.6 147.6ZM130.8 168.5L132.7 168.4L132.4 169.5L130.9 168.9ZM128.1 166.3L129.0 166.3L129.0 167.6L128.3 167.8ZM128.4 165.2L128.9 164.8L128.8 165.9L128.4 165.8ZM137.6 170.3L139.3 170.5L138.2 170.7ZM143.0 170.7L144.4 170.2L143.8 170.9ZM26.3 180.7L26.9 181.1L26.5 181.5ZM85.2 229.0L87.0 229.1L86.4 229.8L85.3 229.6Z"/>
<path fill="#f5f5f5" d="M141.0 166.2L142.5 166.2L143.8 165.6L144.8 165.6L145.6 166.1L146.9 166.3L148.7 165.9L148.7 165.0L147.5 164.2L146.4 163.5L145.9 163.0L146.9 161.7L144.7 162.3L145.6 162.9L144.9 163.3L143.9 163.7L143.3 162.9L143.8 162.4L142.7 162.1L142.0 162.1L141.4 163.0L140.8 163.9L140.4 164.6L140.2 165.2L140.5 165.9ZM152.4 164.8L152.1 163.6L152.8 162.5L154.0 161.8L155.6 161.8L156.0 162.5L154.9 163.0L154.7 163.6L154.2 163.8L154.9 164.6L155.7 165.2L155.6 166.1L156.4 166.5L155.9 167.6L156.4 168.5L156.4 169.2L155.2 169.5L154.2 169.0L153.4 168.8L153.3 167.9L153.7 166.8L153.4 165.9L152.8 165.3ZM66.0 161.8L68.4 160.3L70.6 161.8L68.4 162.1ZM68.6 162.7L70.0 162.6L69.5 165.6L68.6 165.7ZM70.9 162.5L73.1 162.9L72.2 164.6L71.2 164.0ZM71.4 165.6L74.0 164.8L75.7 164.0L73.7 164.3L72.2 165.9ZM61.6 156.3L62.5 156.1L63.3 158.9L62.5 158.6ZM50.5 149.6L52.3 148.1L55.1 147.8L52.9 149.3ZM46.1 145.1L48.0 143.5L49.8 144.1L48.6 145.6ZM142.7 193.4L144.1 193.5L144.1 194.9L142.8 195.3ZM159.3 162.1L160.8 162.2L160.5 164.0L159.3 163.9ZM187.5 157.9L189.3 156.8L191.1 154.6L190.3 155.9L188.7 157.6ZM168.6 162.2L170.1 161.8L172.0 162.1L170.1 162.3L168.9 163.0ZM141.9 149.6L143.2 149.3L143.2 150.3L142.2 150.5Z"/>
<path fill="none" stroke="#ffffff" stroke-opacity="0.45" stroke-width="0.3" stroke-linejoin="round" d="M46.7 160.1L64.1 160.1L67.8 160.9L70.6 162.1L71.8 163.3L71.8 165.6L74.0 164.6L75.9 163.9L76.5 163.3L78.7 163.3L80.2 161.4L81.5 163.1M35.6 140.6L35.6 150.2L38.1 151.4L39.9 153.3L42.4 155.0M50.4 172.4L51.9 172.3L54.2 173.3L55.9 173.3L57.0 172.9L58.2 174.4L59.1 174.9L60.1 174.3L61.3 175.9L62.7 177.0M65.8 184.4L66.6 182.7L67.8 182.3L68.3 181.8M67.7 183.5L67.7 184.6L68.6 185.2M68.6 185.2L70.3 184.4L71.4 184.1M69.8 186.7L71.1 186.7M71.5 188.4L71.7 187.6M91.1 190.9L89.5 192.2L88.0 192.3L85.8 190.3L83.3 191.1L81.5 192.8L79.6 193.6L79.6 196.2L77.7 197.4L77.4 199.6L79.3 200.5L79.9 200.5L82.5 199.9L85.5 202.1L85.8 203.9L87.2 205.0L87.0 206.3L88.4 207.8L89.2 210.0L89.7 211.0L87.3 213.2L89.9 215.6M78.7 185.8L78.0 187.9L79.6 189.2L81.2 189.8L81.5 192.8M74.0 192.7L76.2 193.6L76.4 194.2L79.6 196.2M73.3 195.7L74.3 196.7L76.4 194.2M79.9 200.5L80.2 203.7L79.9 204.7L79.4 205.2M79.9 204.7L80.8 207.6L81.5 208.2L84.2 207.8L87.0 206.3M81.5 208.2L80.5 209.6L79.7 213.0L79.6 215.8L79.0 218.7L78.5 221.6L78.4 225.5L77.7 227.9L80.5 229.8M84.2 207.8L87.0 211.1L89.2 210.0M87.3 213.2L86.8 215.8M85.8 190.3L87.0 192.7L88.0 192.3M87.7 189.8L88.0 192.3M89.5 190.0L89.5 192.2M85.8 188.2L85.2 189.8L85.8 190.3M121.9 164.5L125.0 165.3M117.5 165.6L119.0 165.7L118.7 167.8L118.4 169.1M124.5 158.4L126.7 159.7L128.0 160.1L127.7 161.3L126.7 162.3L127.3 164.0L127.7 164.2M131.8 155.9L132.3 158.4L130.4 159.0L131.6 160.3L131.1 161.3L129.0 161.3L127.7 161.3M126.7 159.7L126.7 158.4L127.3 156.5M125.2 158.1L126.7 158.4M128.3 155.1L129.1 155.2M137.6 155.7L137.9 158.9L136.9 160.1L134.8 159.7L132.3 158.4M127.3 162.5L129.5 161.8L131.5 162.1L132.9 161.8L133.5 160.9L134.8 159.7M131.5 162.8L132.9 161.8M131.6 160.3L133.5 160.9L136.8 160.9M132.9 161.8L134.8 162.5L136.0 162.3L136.9 160.9M134.8 162.5L134.8 163.4L136.9 163.6L136.9 165.3L135.7 166.3L135.0 165.7M136.9 163.6L139.7 164.0L140.7 164.3M136.9 165.3L139.1 165.8L140.4 165.6M139.1 165.8L139.3 166.4M135.7 166.3L137.3 166.1L139.1 166.1M130.1 151.4L130.8 149.6L130.4 147.1L132.0 144.6L134.2 141.9L135.7 141.4M135.7 141.4L137.6 143.0L137.9 144.8M135.7 141.4L138.5 141.7L141.0 141.4M140.4 150.0L141.6 148.1L141.6 145.6L141.0 143.5L141.0 141.4L141.6 140.6M140.4 151.0L140.1 152.8L140.4 154.2L142.2 155.0L142.5 157.6L144.1 157.6L145.3 159.0L147.8 159.6L147.6 161.1L146.7 161.6M136.0 154.8L137.3 155.6M136.9 153.8L139.1 154.0L140.4 154.2M138.1 152.5L140.1 152.8M139.1 154.0L139.1 155.9L137.6 155.7M136.9 160.1L136.8 160.9L139.1 160.7L140.5 162.9L141.4 163.0M137.9 158.0L142.5 157.6M139.1 160.7L141.0 160.9L141.6 162.2M148.7 165.9L150.0 166.3L150.8 167.3L150.5 169.1L149.2 169.1L145.8 169.4L145.3 170.0M147.8 164.4L151.8 165.7L153.1 165.7M150.0 166.3L151.8 165.7M150.0 166.3L150.9 166.2L151.8 167.9L153.3 168.2M150.8 167.3L151.8 167.9M153.4 162.1L152.1 160.9L152.0 159.4L154.6 158.0L157.1 158.4L160.8 158.4L161.1 156.1L165.8 154.8L167.0 155.7L170.1 155.9L172.6 158.4L174.8 158.4L177.1 159.9M177.1 159.9L180.0 158.7L183.8 157.6L184.3 159.3L186.6 158.9L189.3 159.3L193.7 159.1L195.4 159.4L197.4 156.5L199.6 156.3L202.1 159.3L204.2 161.1L206.7 160.6L205.5 163.3L204.2 164.8L204.0 165.3M177.1 159.9L179.4 162.5L182.5 164.9L188.1 165.9L192.1 164.4L194.6 162.9L197.1 161.9L195.4 159.4M177.1 159.9L174.5 161.7L172.6 163.3L172.9 165.2L168.9 167.0L169.2 168.9L171.4 170.3L172.0 172.4L173.2 174.0L176.3 175.5L178.1 175.9L180.0 175.7L183.1 175.3L184.1 177.6L185.0 179.9L186.2 179.2L188.1 178.9L190.0 179.8M165.3 178.4L167.0 177.9L166.4 175.5L168.6 174.2L169.2 172.4L169.2 168.9M173.2 174.0L172.7 175.0L175.1 175.9L177.6 176.6L178.1 175.9M178.1 175.9L177.7 178.2L178.2 179.6M180.0 175.7L181.9 176.2L183.1 175.3M181.3 178.2L180.3 179.9M177.7 178.2L180.0 177.6L180.2 178.9L179.6 178.8M181.9 176.2L181.3 178.2M161.1 177.5L160.8 174.5L160.8 171.4L160.8 169.6L157.7 168.5L156.4 169.0M150.5 169.1L151.5 170.7L151.5 172.1L152.8 173.8M160.8 174.5L163.9 174.5L166.4 171.7L167.3 169.6L169.2 168.9M155.9 165.6L157.7 166.1L157.7 163.3L159.3 162.9L160.8 163.8L163.9 166.3L166.4 165.6L168.9 164.8L172.9 165.2M160.8 169.6L163.9 169.0L167.3 169.6M157.7 166.1L160.2 165.9L161.4 167.0L163.9 169.0M163.9 166.3L164.8 167.4L166.7 166.7L168.9 167.0M164.8 167.4L165.2 169.1M166.4 165.6L167.0 166.9M149.5 183.2L152.1 182.8L155.2 181.5L157.1 180.9L157.4 179.1L155.6 178.9L154.9 177.9M144.7 174.5L146.2 174.2L147.2 172.8L150.6 174.7L152.4 174.9M147.2 172.8L148.4 171.0L149.2 169.1M145.1 172.3L147.2 172.8M155.2 181.5L155.9 183.0M157.4 179.1L157.7 177.7M144.7 174.5L144.2 173.3M145.1 172.3L145.0 173.5M145.3 171.0L145.6 171.7L145.1 172.1M184.2 187.0L184.4 185.4L183.9 183.5L183.4 181.8L185.0 180.7M185.0 180.7L186.2 182.2L187.8 182.5L188.4 184.4L186.7 186.0M186.2 179.2L187.8 181.5L189.7 184.4L188.7 186.7M185.1 189.5L186.2 189.8M185.0 180.7L185.7 179.9M188.4 184.4L189.7 184.4M188.7 186.7L187.8 187.0M200.2 167.0L202.4 165.9L204.0 165.3M201.3 168.7L202.6 168.1M191.2 192.5L192.4 192.8L194.0 192.7L194.6 191.4L195.9 191.0M210.4 195.2L210.4 199.3M199.9 199.5L200.5 199.1M121.8 170.5L122.1 172.6L119.9 174.2L117.6 175.1L117.6 175.9L114.9 175.7M117.6 176.0L120.0 177.6M117.6 176.9L115.6 176.9L115.6 178.6L114.9 180.0L112.5 180.0M128.3 169.3L128.0 171.7L128.9 174.0L129.2 177.9L130.4 178.6M130.1 171.9L128.9 174.0M138.5 173.0L138.5 179.6M138.5 179.6L145.8 179.6M130.4 178.6L132.3 178.9L137.9 181.2L137.9 180.9L138.5 180.9L138.5 179.6M120.0 177.6L123.6 180.2L125.6 181.4L126.7 181.2L130.4 178.6M120.0 177.6L119.0 177.6L119.6 183.8L115.9 183.8L115.4 184.2L112.8 183.1M125.2 186.2L125.5 185.1L127.3 185.4L129.2 185.2L131.4 184.9M132.3 178.9L132.9 180.9L132.6 183.1L131.4 184.9M125.6 181.4L125.6 183.5L123.6 184.1L123.1 184.1L121.1 184.9L119.7 186.3L119.6 187.0M123.6 184.1L124.4 185.8L125.2 186.2L124.7 189.6M123.1 184.1L124.4 185.8M121.1 184.9L121.3 187.6L123.3 186.7L124.4 185.8M123.3 186.7L123.7 189.8M123.0 186.7L123.4 189.8M137.9 181.2L137.9 183.7L136.9 185.4L137.3 187.0M145.6 184.6L144.1 187.0L143.5 188.6L144.7 190.1M137.3 187.0L140.4 187.6L143.5 187.3L144.1 187.0M145.6 184.6L146.6 182.2M145.6 184.6L147.8 184.4L149.7 185.7M149.8 186.3L149.0 187.0L150.9 188.2L152.8 188.6L150.9 190.5L149.0 191.1L148.4 194.7M144.7 190.1L147.2 191.4L149.0 191.1M144.1 194.2L146.2 195.5L147.3 196.6M144.1 194.2L144.1 191.0L142.2 191.3L141.4 194.5M144.1 191.0L144.7 190.1M141.4 194.5L141.9 195.1L142.1 196.4L141.3 196.4M141.9 194.2L144.1 194.2M130.6 197.4L133.2 197.3L134.2 198.6L136.6 198.0L136.6 200.5L137.9 200.5L137.9 201.5L140.1 201.4L141.3 202.1L140.7 199.9L142.1 198.8L141.3 196.4L141.4 194.5L142.2 192.2L142.2 191.3L140.1 190.5L136.9 191.0L134.5 191.4L134.0 193.9L132.9 195.5L131.1 196.6L130.6 197.4M130.3 204.6L134.5 204.7L137.6 204.8M136.6 200.5L136.6 203.9L137.6 204.8M135.4 207.6L135.4 212.0L133.5 212.1M135.4 207.6L136.0 205.2L137.6 204.8L138.7 204.9M135.4 209.5L137.3 209.8L138.8 210.1L139.7 208.8L141.2 207.8L142.4 207.9L142.8 210.8L143.4 210.9M138.7 204.9L139.7 205.0L141.8 203.5L143.5 202.5L143.4 199.5L142.1 198.8M138.7 204.9L140.2 206.7L141.2 207.8M142.4 207.9L143.5 206.2L143.4 204.2L141.8 203.5M148.0 200.2L144.7 200.9L144.4 199.7L143.4 199.5M143.5 202.5L144.4 202.8L144.9 204.4L144.6 200.9M121.1 190.5L121.3 187.6L119.6 187.0L118.0 187.3L118.3 190.8M128.3 190.7L130.1 189.4L131.4 187.3L132.0 185.5M132.0 185.5L132.6 187.3L132.3 188.9L132.9 192.3L131.1 192.2L129.1 192.2M132.3 188.9L134.5 188.6L137.3 187.0M132.9 192.3L134.5 191.4M128.9 193.0L130.0 193.0L130.0 192.2M131.1 192.2L131.9 194.8L130.1 196.1M137.3 187.0L138.5 188.6L140.1 190.5M118.0 187.3L116.5 188.2L115.9 189.3M116.5 188.2L114.8 187.9M118.0 187.3L115.9 185.9L113.7 186.7M115.9 185.9L115.4 184.2M112.6 185.0L114.3 185.1L112.6 185.3M112.6 185.8L114.5 185.6L114.5 186.2L113.7 186.7M140.7 212.1L141.2 212.7L140.4 213.4L139.7 212.8L140.7 212.1"/></svg>
<svg id="deco" width="900" height="488" viewBox="0 0 900 488">
<defs><linearGradient id="fadeY" gradientUnits="userSpaceOnUse" x1="440" y1="0" x2="525" y2="0"><stop offset="0" stop-color="#f7e8b4" stop-opacity="1"/><stop offset="1" stop-color="#f7e8b4" stop-opacity="0"/></linearGradient>
<linearGradient id="fadeG" gradientUnits="userSpaceOnUse" x1="460" y1="0" x2="540" y2="0"><stop offset="0" stop-color="#dfdfdf" stop-opacity="1"/><stop offset="1" stop-color="#dfdfdf" stop-opacity="0"/></linearGradient></defs>
<path id="wy" fill="none" stroke="url(#fadeY)" stroke-width="0.9" d="M0 311 C12 309 22 303 31 289 C40 270 46 252 56 238 C64 229 74 227.5 82 228.5 C100 231 118 246 135 253 C150 257 164 256 176 246 C190 234 200 213 212 204 C222 197.5 236 197.5 245 204 C256 214 264 240 276 259 C286 275 298 284.5 311 284.5 C326 284.5 340 272 352 259 C372 238 390 252 414 235 C424 222 434 210 445 204 C458 198 470 200 481 187 C492 172 500 145 510 122 C514 113 516 110 518 107"/>
<path id="wg" fill="none" stroke="url(#fadeG)" stroke-width="0.9" d="M0 312 C10 310 20 305 28 295 C38 280 44 266 55 257 C64 251 78 251.5 90 249 C104 246 118 236 133 225 C148 216 166 216 180 209.5 C192 203 204 189 216 185 C226 181.5 238 183 246 192 C258 206 266 226 276 241 C286 254 296 261.5 307 261.5 C318 261.5 330 250 340 236 C351 218 358 199 371 189.5 C384 182.5 402 183 420 179 C440 175 462 172 478 167.5 C492 162 500 146 510 138 C518 132 526 130.5 535 130"/>
</svg>
<div class="cagr">CAGR OF</div>
<div class="pct">7.4%</div>
<div class="para">
<div>The global amniotic products</div>
<div>market is expected to be</div>
<div>worth USD 1,289 million by</div>
<div>2028, growing at a CAGR of</div>
<div>7.4% during the forecast</div>
<div class="last">period.</div>
</div>

<div style="position:absolute;left:293px;top:395.8px;width:583px;height:1px;background:#dadada"></div>
<div class="bar" style="left:350.2px;width:80.7px;top:235.9px;height:1.0px;background:#7f9e5f"></div><div class="bar" style="left:350.2px;width:80.7px;top:236.9px;height:4.3px;background:#f29b4e"></div><div class="bar" style="left:350.2px;width:80.7px;top:241.2px;height:8.6px;background:#3a7abd"></div><div class="bar" style="left:350.2px;width:80.7px;top:249.8px;height:145.8px;background:#b73a30"></div><div class="bar" style="left:544.2px;width:80.2px;top:225.9px;height:1.0px;background:#7f9e5f"></div><div class="bar" style="left:544.2px;width:80.2px;top:226.9px;height:3.7px;background:#f29b4e"></div><div class="bar" style="left:544.2px;width:80.2px;top:230.6px;height:9.6px;background:#3a7abd"></div><div class="bar" style="left:544.2px;width:80.2px;top:240.2px;height:155.4px;background:#b73a30"></div><div class="bar" style="left:738.0px;width:80.5px;top:152.1px;height:1.9px;background:#5aa37e"></div><div class="bar" style="left:738.0px;width:80.5px;top:154.0px;height:5.0px;background:#f29b4e"></div><div class="bar" style="left:738.0px;width:80.5px;top:159.0px;height:13.0px;background:#3a7abd"></div><div class="bar" style="left:738.0px;width:80.5px;top:172.0px;height:223.6px;background:#b73a30"></div>
<svg width="900" height="488" style="position:absolute;left:0;top:0" viewBox="0 0 900 488">
<line x1="605" y1="207.2" x2="759" y2="133.6" stroke="#d9d9d9" stroke-width="0.9"/>
<path d="M763.4 131.5 L757.6 131.8 L759.6 135.9 Z" fill="#d4d4d4"/>
</svg>
<div id="circ"><span style="left:10.3px;top:16.5px;font-size:17px;line-height:20px;">7.4</span><span style="left:34.5px;top:22.5px;font-size:11px;line-height:12px;">%</span></div>
<div class="val" style="left:366.9px;top:211.5px;transform:scaleX(0.955)">846</div>
<div class="val" style="left:559.3px;top:201.0px;transform:scaleX(0.955)">900</div>
<div class="val" style="left:770.9px;top:123.1px;transform:scaleX(0.945)">1,289</div>
<div class="yr" style="left:370.8px;top:401px;">2022</div>
<div class="yr" style="left:564.3px;top:401px;">2023</div>
<div class="yr" style="left:758.3px;top:401px;">2028</div>
<div class="sq" style="left:428.2px;background:#b5352c"></div><div class="lg" style="left:434.4px">North America</div>
<div class="sq" style="left:497.4px;background:#3f7fc0"></div><div class="lg" style="left:503.6px">Europe</div>
<div class="sq" style="left:540.1px;background:#f29b4e"></div><div class="lg" style="left:546.4px;transform:scaleX(0.93)">Asia-Pacific</div>
<div class="sq" style="left:599.3px;background:#8c8c8c"></div><div class="lg" style="left:605.6px">Latin America</div>
<div class="sq" style="left:666px;background:#22b04e"></div><div class="lg" style="left:672.6px">Middle East &amp; Africa</div>

</div>
</body></html>
